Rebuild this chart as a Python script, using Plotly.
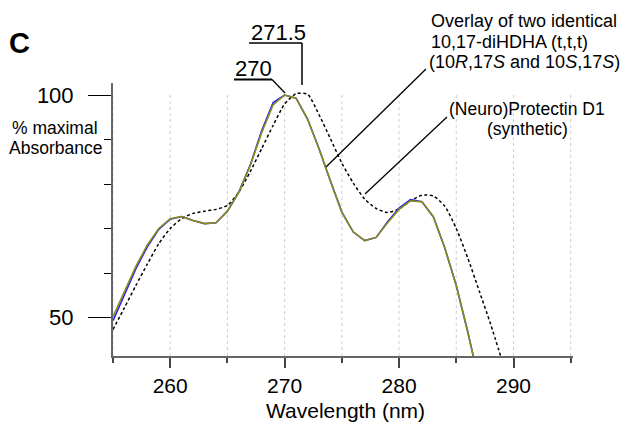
import plotly.graph_objects as go

# ---------------- data ----------------
wavelength_solid = list(range(255, 288))
diHDHA_olive = [50.2, 55.8, 61.5, 66.3, 70.0, 72.2, 72.7, 71.8, 71.1, 71.3,
                73.9, 78.2, 84.2, 91.6, 97.8, 100.0, 99.3, 94.6, 88.0, 80.7,
                73.7, 69.2, 67.3, 68.0, 71.3, 74.3, 76.2, 76.0, 72.6, 65.6,
                57.2, 46.8, 35.5]
diHDHA_blue = [49.3, 55.2, 61.0, 65.9, 69.8, 72.1, 72.7, 71.8, 71.1, 71.3,
               73.9, 78.2, 84.3, 92.0, 98.3, 100.0, 99.3, 94.6, 88.0, 80.7,
               73.7, 69.2, 67.3, 68.0, 71.5, 74.6, 76.5, 76.0, 72.6, 65.6,
               57.2, 46.8, 35.5]
wavelength_pd1 = list(range(255, 290))
pd1 = [47.3, 52.2, 57.2, 62.0, 66.6, 70.0, 72.2, 73.4, 73.9, 74.3,
       75.2, 78.2, 82.8, 88.0, 93.2, 98.0, 100.3, 100.2, 95.6, 90.2,
       84.7, 80.2, 76.6, 74.5, 73.6, 74.4, 76.2, 77.5, 77.3, 75.0,
       70.0, 63.4, 56.0, 48.5, 40.3]
x_major = [260, 270, 280, 290]
x_minor = [255, 265, 275, 285, 295]
y_major = [50, 100]
y_minor = [60, 70, 80, 90]
grid_x = [255, 260, 265, 270, 275, 280, 285, 290, 295]

# ---------------- geometry ----------------
W, H = 621, 422
L, R, T, B = 113, 48, 83, 66
PW, PH = W - L - R, H - T - B
XR = [255, 295.2]
YR = [41.35, 102.7]
FONT = "Liberation Sans, Arial, Helvetica, sans-serif"


def pp(px, py):
    return (px - L) / PW, (H - B - py) / PH


fig = go.Figure()
fig.add_trace(go.Scatter(x=wavelength_pd1, y=pd1, mode="lines",
                         line=dict(color="black", width=1.5, dash="3px,2.5px", shape="spline", smoothing=0.6),
                         showlegend=False))
fig.add_trace(go.Scatter(x=wavelength_solid, y=diHDHA_blue, mode="lines",
                         line=dict(color="#1f1fff", width=1.6), showlegend=False))
fig.add_trace(go.Scatter(x=wavelength_solid, y=diHDHA_olive, mode="lines",
                         line=dict(color="#8c8c16", width=1.6), showlegend=False))

shapes = []
for gx in grid_x:
    shapes.append(dict(type="line", xref="x", yref="y", x0=gx, x1=gx, y0=YR[0], y1=100,
                       line=dict(color="#cfcfcf", width=1, dash="3px,3px"), layer="below"))


def seg(p0, p1, w=1.3):
    a = pp(*p0)
    b = pp(*p1)
    shapes.append(dict(type="line", xref="paper", yref="paper", x0=a[0], y0=a[1], x1=b[0], y1=b[1],
                       line=dict(color="black", width=w)))


# label leaders
seg((234, 79.5), (272, 79.5), 2)
seg((272, 79.5), (285, 93), 1.3)
seg((249, 43), (302, 43), 1.5)
seg((302, 43), (302, 85), 1.5)
seg((426, 69), (326, 167), 1.3)
seg((447, 117), (365, 194), 1.3)

annotations = []


def txt(s, px, py, size, xanchor="center", bold=False):
    x, y = pp(px, py)
    if bold:
        s = "<b>" + s + "</b>"
    annotations.append(dict(text=s, x=x, y=y, xref="paper", yref="paper", xanchor=xanchor,
                            yanchor="middle", showarrow=False,
                            font=dict(family=FONT, size=size, color="black")))


txt("C", 19.5, 42.5, 29, bold=True)
txt("270", 253, 68, 22)
txt("271.5", 278, 33, 22)
txt("Overlay of two identical", 429, 21, 18, "left")
txt("10,17-diHDHA (t,t,t)", 429, 42, 18, "left")
txt("(10<i>R</i>,17<i>S</i> and 10<i>S</i>,17<i>S</i>)", 427, 62, 18, "left")
txt("(Neuro)Protectin D1", 527, 108.5, 17.5)
txt("(synthetic)", 527, 129, 17.5)
txt("% maximal", 55, 128, 17.5)
txt("Absorbance", 55, 148, 17.5)
txt("Wavelength (nm)", 345, 410, 21)

fig.update_layout(
    width=W, height=H,
    margin=dict(l=L, r=R, t=T, b=B, pad=0),
    plot_bgcolor="white", paper_bgcolor="white",
    shapes=shapes, annotations=annotations,
    font=dict(family=FONT, color="black"),
    xaxis=dict(range=XR, tickmode="array", tickvals=x_major, ticks="outside", ticklen=10,
               tickwidth=1.5, tickcolor="#444", showline=True, linecolor="#666", linewidth=2,
               showgrid=False, zeroline=False, tickfont=dict(family=FONT, size=21, color="black"),
               minor=dict(tickmode="array", tickvals=x_minor, ticks="outside", ticklen=5,
                          tickwidth=1.5, tickcolor="#444", showgrid=False)),
    yaxis=dict(range=YR, tickmode="array", tickvals=y_major, ticks="outside", ticklen=23,
               tickwidth=1.3, tickcolor="black", showline=True, linecolor="#666", linewidth=2,
               showgrid=False, zeroline=False, tickfont=dict(family=FONT, size=22, color="black"),
               ticklabelstandoff=10,
               minor=dict(tickmode="array", tickvals=y_minor, ticks="outside", ticklen=7,
                          tickwidth=1.3, tickcolor="black", showgrid=False)),
)

fig.write_html("out.html")
